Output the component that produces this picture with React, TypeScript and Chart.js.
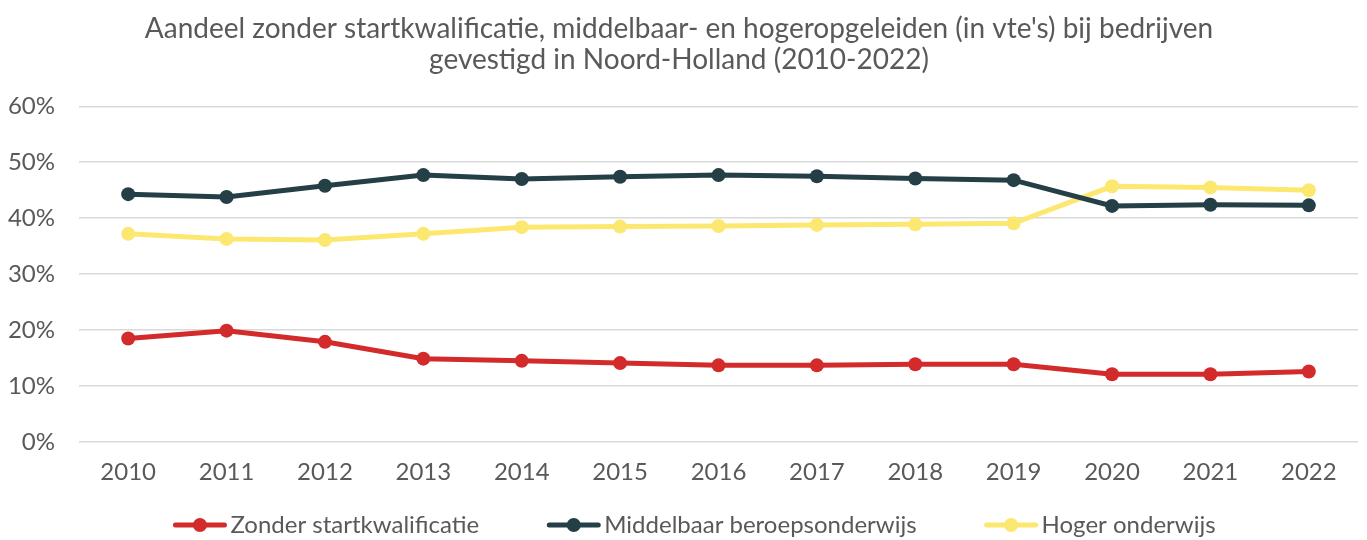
import React, { useEffect, useRef } from "react";
import { Chart, registerables } from "chart.js";

Chart.register(...registerables);

const years = ["2010", "2011", "2012", "2013", "2014", "2015", "2016", "2017", "2018", "2019", "2020", "2021", "2022"];
const zonderStart = [18.5, 19.9, 17.9, 14.9, 14.5, 14.1, 13.7, 13.7, 13.9, 13.9, 12.1, 12.1, 12.6];
const middelbaar = [44.3, 43.8, 45.8, 47.7, 47.0, 47.4, 47.7, 47.5, 47.1, 46.8, 42.2, 42.4, 42.3];
const hoger = [37.2, 36.3, 36.1, 37.2, 38.4, 38.5, 38.6, 38.8, 38.9, 39.1, 45.7, 45.5, 45.0];
const seriesNames = ["Zonder startkwalificatie", "Middelbaar beroepsonderwijs", "Hoger onderwijs"];
const titleLines = [
  "Aandeel zonder startkwalificatie, middelbaar- en hogeropgeleiden (in vte's) bij bedrijven",
  "gevestigd in Noord-Holland (2010-2022)",
];

const RED = "#D32B2B";
const DARK = "#243F45";
const YELLOW = "#FCE870";
const TEXT = "#595959";
const GRID = "#D9D9D9";
const FONT = "Lato, 'Open Sans', sans-serif";
const COLORS = [RED, DARK, YELLOW];

const legendPlugin = {
  id: "customLegend",
  afterDraw(chart: any) {
    const ctx = chart.ctx as CanvasRenderingContext2D;
    const y = 525;
    const iconW = 55;
    const textGap = 3;
    const itemGap = 67;
    ctx.save();
    ctx.font = `24px ${FONT}`;
    const widths = seriesNames.map((n) => ctx.measureText(n).width);
    const total = widths.reduce((a, w) => a + iconW + textGap + w, 0) + itemGap * (seriesNames.length - 1);
    let x = 694 - total / 2;
    seriesNames.forEach((n, i) => {
      const c = COLORS[i];
      ctx.strokeStyle = c;
      ctx.lineWidth = 5;
      ctx.lineCap = "round";
      ctx.beginPath();
      ctx.moveTo(x + 3, y);
      ctx.lineTo(x + iconW - 3, y);
      ctx.stroke();
      ctx.fillStyle = c;
      ctx.beginPath();
      ctx.arc(x + iconW / 2, y, 7, 0, Math.PI * 2);
      ctx.fill();
      ctx.fillStyle = TEXT;
      ctx.textBaseline = "middle";
      ctx.textAlign = "left";
      ctx.fillText(n, x + iconW + textGap, y);
      x += iconW + textGap + widths[i] + itemGap;
    });
    ctx.restore();
  },
};

export default function App() {
  const ref = useRef<HTMLCanvasElement>(null);
  useEffect(() => {
    document.body.style.margin = "0";
    const values = [zonderStart, middelbaar, hoger];
    const chart = new Chart(ref.current!, {
      type: "line",
      data: {
        labels: years,
        datasets: values.map((v, i) => ({
          label: seriesNames[i],
          data: v,
          borderColor: COLORS[i],
          backgroundColor: COLORS[i],
          borderWidth: 5,
          pointRadius: 7,
          pointHoverRadius: 7,
          pointBorderWidth: 0,
          pointStyle: "circle",
          tension: 0,
        })),
      },
      options: {
        animation: false,
        responsive: false,
        maintainAspectRatio: false,
        layout: { padding: { left: 0, right: 9, top: 0, bottom: 0 } },
        plugins: {
          title: {
            display: true,
            text: titleLines,
            color: TEXT,
            font: { family: FONT, size: 28, weight: "normal" as any, lineHeight: 1.107 },
            padding: { top: 13.5, bottom: 30.8 },
          },
          legend: { display: false },
          tooltip: { enabled: false },
        },
        scales: {
          x: {
            offset: true,
            grid: { display: false, drawTicks: false },
            border: { display: false },
            ticks: { color: TEXT, font: { family: FONT, size: 24 }, padding: 15.6, maxRotation: 0 },
            afterFit: (s: any) => {
              s.height = 98;
            },
          },
          y: {
            min: 0,
            max: 60,
            grid: { color: GRID, lineWidth: 1.5, drawTicks: false },
            border: { display: false },
            ticks: {
              stepSize: 10,
              color: TEXT,
              font: { family: FONT, size: 24 },
              padding: 24,
              callback: (v: any) => v + "%",
            },
            afterFit: (s: any) => {
              s.width = 79;
            },
          },
        },
      },
      plugins: [legendPlugin],
    });
    return () => chart.destroy();
  }, []);
  return <canvas ref={ref} width={1367} height={540} style={{ display: "block" }} />;
}
